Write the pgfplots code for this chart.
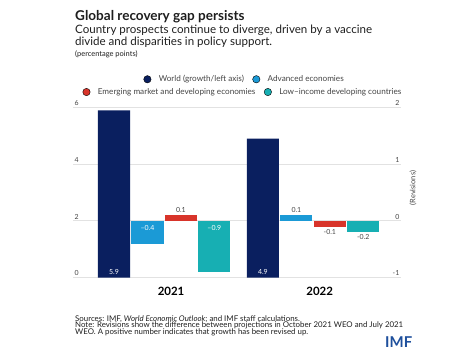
\documentclass[border=0pt]{standalone}
\usepackage{fontspec}
\setmainfont{Lato}
\usepackage{pgfplots}
\pgfplotsset{compat=1.18}
\definecolor{navy}{HTML}{0A1F5F}
\definecolor{advblue}{HTML}{1B9AD6}
\definecolor{emred}{HTML}{D8342A}
\definecolor{lidcteal}{HTML}{17AFB3}
\definecolor{gridgray}{HTML}{E2E2E2}
\definecolor{txtgray}{HTML}{444444}
\definecolor{txtdark}{HTML}{1E1E1E}
\definecolor{imfblue}{HTML}{1E4F9C}
\pgfplotsset{
  common/.style={
    at={(73bp,82.5bp)}, anchor=south west,
    scale only axis, width=328bp, height=170bp,
    xmin=0, xmax=10, clip=false,
    tick style={draw=none}, major tick length=0pt,
    axis line style={draw=none},
    /pgf/number format/assume math mode=true,
    yticklabel style={font=\fontsize{7}{8}\selectfont, text=txtgray, inner sep=1.5bp},
    legend style={draw=none, fill=none, font=\fontsize{8.2}{9}\selectfont, text=txtgray,
      legend columns=-1,
      nodes={inner sep=0.5bp},
      /tikz/every odd column/.append style={column sep=7bp},
      /tikz/every even column/.append style={column sep=8bp},
      inner sep=0pt, outer sep=0pt},
    legend image code/.code={\fill[##1] (0bp,0bp) circle (3.7bp);},
    nodes near coords style={font=\fontsize{7}{8}\selectfont, text=txtgray, inner sep=2.5bp},
  },
}
\begin{document}
\begin{tikzpicture}[x=1bp,y=1bp]
\useasboundingbox (0,0) rectangle (463,360);
\node[anchor=base west, inner sep=0, font=\fontsize{13.6}{15}\selectfont\bfseries, text=txtdark] at (75,340) {Global recovery gap persists};
\node[anchor=base west, inner sep=0, font=\fontsize{11.6}{13}\selectfont, text=txtdark] at (75,326.7) {Country prospects continue to diverge, driven by a vaccine};
\node[anchor=base west, inner sep=0, font=\fontsize{11.6}{13}\selectfont, text=txtdark] at (75,315) {divide and disparities in policy support.};
\node[anchor=base west, inner sep=0, font=\fontsize{7.5}{9}\selectfont, text=txtdark] at (75,303.5) {(percentage points)};

\begin{axis}[common,
  axis x line*=bottom, axis y line*=left,
  ymin=0, ymax=6, ytick={0,2,4,6},
  ymajorgrids, grid style={gridgray, line width=1.1bp},
  yticklabel style={anchor=south west},
  xtick={2.99,7.52}, xticklabels={2021,2022},
  xticklabel style={font=\fontsize{11.5}{12}\selectfont\bfseries, text=black, yshift=-6bp},
  legend style={at={(axis description cs:0.521,1.166)}, anchor=center},
]
\addplot[ybar, bar width=0.98, bar shift=0pt, fill=navy, draw=none, forget plot] coordinates {(1.25,5.9) (5.79,4.9)};
\addplot[draw=none, forget plot, nodes near coords, point meta=explicit symbolic,
  nodes near coords style={text=white, inner sep=3bp, anchor=south}] coordinates {(1.25,0) [5.9] (5.79,0) [4.9]};
\addlegendimage{fill=navy}
\addlegendentry{World (growth/left axis)}
\addlegendimage{fill=advblue}
\addlegendentry{Advanced economies}
\end{axis}

\begin{axis}[common,
  axis y line*=right, axis x line=none,
  ymin=-1, ymax=2, ytick={-1,0,1,2},
  yticklabel style={anchor=south east},
  ylabel={(Revisions)},
  ylabel style={at={(axis description cs:1.0366,0.5265)}, anchor=center, inner sep=0pt, font=\fontsize{7.5}{9}\selectfont, text=txtgray},
  legend style={at={(axis description cs:0.516,1.091)}, anchor=center},
]
\addplot[ybar, bar width=0.98, bar shift=0pt, fill=advblue, draw=none, forget plot] coordinates {(2.27,-0.4)};
\addplot[ybar, bar width=0.98, bar shift=0pt, fill=advblue, draw=none, forget plot,
  nodes near coords, point meta=explicit symbolic, nodes near coords style={anchor=south}] coordinates {(6.81,0.1) [0.1]};
\addplot[ybar, bar width=0.98, bar shift=0pt, fill=emred, draw=none, forget plot,
  nodes near coords, point meta=explicit symbolic, nodes near coords style={anchor=south}] coordinates {(3.29,0.1) [0.1]};
\addplot[ybar, bar width=0.98, bar shift=0pt, fill=emred, draw=none, forget plot,
  nodes near coords, point meta=explicit symbolic, nodes near coords style={anchor=north}] coordinates {(7.83,-0.1) [-0.1]};
\addplot[ybar, bar width=0.98, bar shift=0pt, fill=lidcteal, draw=none, forget plot] coordinates {(4.31,-0.9)};
\addplot[ybar, bar width=0.98, bar shift=0pt, fill=lidcteal, draw=none, forget plot,
  nodes near coords, point meta=explicit symbolic, nodes near coords style={anchor=north}] coordinates {(8.85,-0.2) [-0.2]};
\addplot[draw=none, forget plot, nodes near coords, point meta=explicit symbolic,
  nodes near coords style={text=white, anchor=north, inner sep=0pt, yshift=-4bp}] coordinates {(2.27,0) [--0.4] (4.31,0) [--0.9]};
\addlegendimage{fill=emred}
\addlegendentry{Emerging market and developing economies}
\addlegendimage{fill=lidcteal}
\addlegendentry{Low--income developing countries}
\end{axis}

\node[anchor=base west, inner sep=0, font=\fontsize{7.9}{7.9}\selectfont, text=txtdark] at (75,39) {Sources: IMF, \textit{World Economic Outlook}; and IMF staff calculations.};
\node[anchor=base west, inner sep=0, font=\fontsize{7.9}{7.9}\selectfont, text=txtdark] at (75,32.3) {Note: Revisions show the difference between projections in October 2021 WEO and July 2021};
\node[anchor=base west, inner sep=0, font=\fontsize{7.9}{7.9}\selectfont, text=txtdark] at (75,25.6) {WEO. A positive number indicates that growth has been revised up.};
\node[anchor=base west, inner sep=0, font=\fontsize{15}{15}\selectfont\bfseries, text=imfblue] at (385,13) {IMF};
\end{tikzpicture}
\end{document}
